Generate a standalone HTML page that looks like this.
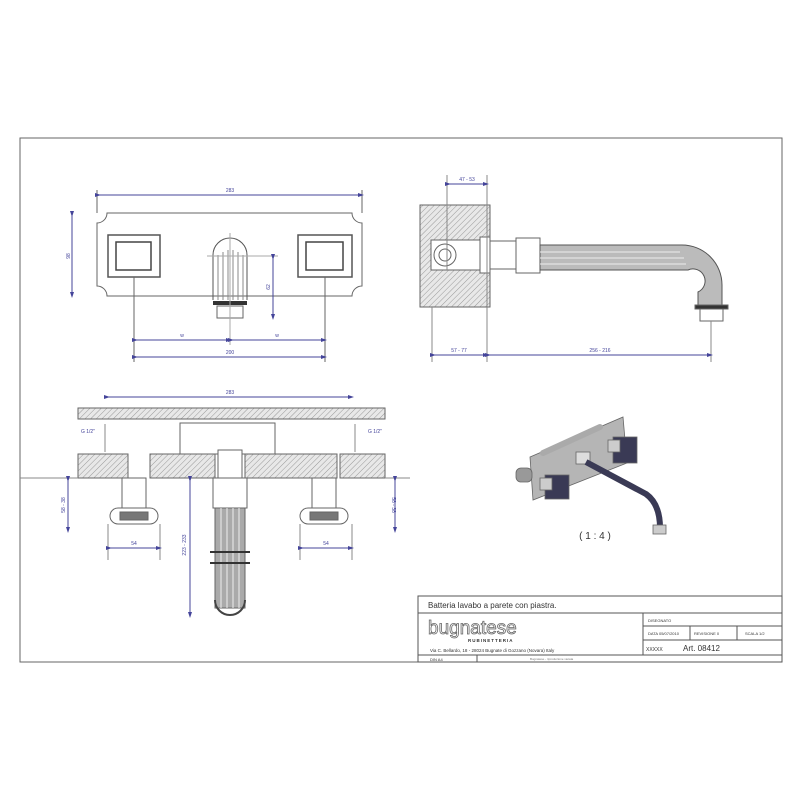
<!DOCTYPE html>
<html><head><meta charset="utf-8"><style>
html,body{margin:0;padding:0;background:#fff}
svg{display:block}
text{font-family:"Liberation Sans",sans-serif}
</style></head><body>
<svg width="800" height="800" viewBox="0 0 800 800" xmlns="http://www.w3.org/2000/svg">
<defs>
<pattern id="h" width="4" height="4" patternUnits="userSpaceOnUse" patternTransform="rotate(45)">
<rect width="4" height="4" fill="#e8e8e8"/><line x1="0" y1="0" x2="0" y2="4" stroke="#999" stroke-width="1"/></pattern>
<marker id="a" markerWidth="6" markerHeight="6" refX="3" refY="3" orient="auto"><path d="M0,1 L6,3 L0,5" fill="#44449a"/></marker>
</defs>
<!-- frame -->
<rect x="20" y="138" width="762" height="524" fill="none" stroke="#666" stroke-width="1"/>

<!-- FRONT VIEW -->
<g stroke="#666" fill="none" stroke-width="1">
<path d="M107,213 H352 A10,10 0 0 0 362,223 V286 A10,10 0 0 0 352,296 H107 A10,10 0 0 0 97,286 V223 A10,10 0 0 0 107,213 Z"/>
<rect x="108" y="235" width="52" height="42" fill="#fff" stroke="#555" stroke-width="1.5"/>
<rect x="116" y="242" width="35" height="28" stroke="#444" stroke-width="1.5"/>
<rect x="298" y="235" width="54" height="42" fill="#fff" stroke="#555" stroke-width="1.5"/>
<rect x="306" y="242" width="37" height="28" stroke="#444" stroke-width="1.5"/>
<path d="M213,300 V255 A17,17 0 0 1 247,255 V300" stroke="#555"/>
<g stroke="#888"><line x1="218" y1="255" x2="218" y2="300"/><line x1="223" y1="252" x2="223" y2="300"/><line x1="228" y1="250" x2="228" y2="300"/><line x1="233" y1="250" x2="233" y2="300"/><line x1="238" y1="252" x2="238" y2="300"/><line x1="243" y1="255" x2="243" y2="300"/></g>
<rect x="213" y="301" width="34" height="4" fill="#333" stroke="none"/>
<rect x="217" y="306" width="26" height="12"/>
<line x1="207" y1="256" x2="278" y2="256" stroke="#aaa"/>
<line x1="230" y1="233" x2="230" y2="345" stroke="#aaa"/>
<line x1="134" y1="277" x2="134" y2="362"/><line x1="325" y1="277" x2="325" y2="362"/>
<line x1="97" y1="190" x2="97" y2="213"/><line x1="362" y1="190" x2="362" y2="213"/>
</g>
<g stroke="#44449a" stroke-width="1" marker-start="url(#a)" marker-end="url(#a)">
<line x1="98" y1="195" x2="361" y2="195"/>
<line x1="72" y1="214" x2="72" y2="295"/>
<line x1="273" y1="257" x2="273" y2="317"/>
<line x1="135" y1="340" x2="229" y2="340"/><line x1="231" y1="340" x2="324" y2="340"/>
<line x1="135" y1="357" x2="324" y2="357"/>
</g>
<g fill="#44449a" font-size="5" text-anchor="middle">
<text x="230" y="192">283</text><text x="70" y="256" transform="rotate(-90 70 256)">98</text>
<text x="270" y="287" transform="rotate(-90 270 287)">62</text>
<text x="182" y="337">w</text><text x="277" y="337">w</text><text x="230" y="354">200</text>
</g>

<!-- SIDE VIEW -->
<g stroke="#666" stroke-width="1">
<rect x="420" y="205" width="70" height="102" fill="url(#h)"/>
<rect x="431" y="240" width="52" height="30" fill="#fff"/>
<circle cx="445" cy="255" r="11" fill="#fff"/><circle cx="445" cy="255" r="6" fill="#fff"/>
<rect x="480" y="237" width="10" height="36" fill="#fff"/>
<rect x="490" y="241" width="30" height="28" fill="#fff"/>
<rect x="516" y="238" width="24" height="35" fill="#fff"/>
<path d="M540,245 H682 A40,40 0 0 1 722,285 V305 H698 V292 A10,10 0 0 0 688,270 H540 Z" fill="#bbb" stroke="#555"/>
<g stroke="#eee" stroke-width="1"><line x1="540" y1="252" x2="680" y2="252"/><line x1="540" y1="258" x2="684" y2="258"/><line x1="540" y1="264" x2="686" y2="264"/></g>
<rect x="695" y="305" width="33" height="4" fill="#333"/>
<rect x="700" y="309" width="23" height="12" fill="#fff"/>
<line x1="432" y1="307" x2="432" y2="362" stroke="#888"/><line x1="487" y1="175" x2="487" y2="362" stroke="#888"/><line x1="711" y1="321" x2="711" y2="362" stroke="#888"/>
<line x1="447" y1="175" x2="447" y2="270" stroke="#888"/>
</g>
<g stroke="#44449a" marker-start="url(#a)" marker-end="url(#a)">
<line x1="448" y1="184" x2="486" y2="184"/>
<line x1="433" y1="355" x2="486" y2="355"/><line x1="488" y1="355" x2="710" y2="355"/>
</g>
<g fill="#44449a" font-size="5" text-anchor="middle">
<text x="467" y="181">47 - 53</text><text x="459" y="352">57 - 77</text><text x="600" y="352">256 - 216</text>
</g>

<!-- TOP VIEW -->
<g stroke="#666" stroke-width="1">
<rect x="78" y="408" width="307" height="11" fill="url(#h)"/>
<rect x="180" y="423" width="95" height="31" fill="#fff"/>
<path d="M105,424 V452 M355,424 V452" stroke="#888"/>
<rect x="78" y="454" width="50" height="24" fill="url(#h)"/>
<rect x="150" y="454" width="65" height="24" fill="url(#h)"/>
<rect x="245" y="454" width="92" height="24" fill="url(#h)"/>
<rect x="340" y="454" width="45" height="24" fill="url(#h)"/>
<rect x="218" y="450" width="24" height="28" fill="#fff"/>
<rect x="213" y="478" width="34" height="30" fill="#fff"/>
<rect x="215" y="508" width="30" height="100" fill="#aaa"/>
<g stroke="#eee"><line x1="221" y1="508" x2="221" y2="608"/><line x1="227" y1="508" x2="227" y2="608"/><line x1="233" y1="508" x2="233" y2="608"/><line x1="239" y1="508" x2="239" y2="608"/></g>
<path d="M215,600 A15,15 0 0 0 245,600" fill="none" stroke="#444" stroke-width="2"/>
<line x1="210" y1="552" x2="250" y2="552" stroke="#333" stroke-width="2"/><line x1="210" y1="563" x2="250" y2="563" stroke="#333" stroke-width="2"/>
<rect x="122" y="478" width="24" height="30" fill="#fff"/>
<rect x="312" y="478" width="24" height="30" fill="#fff"/>
<rect x="110" y="508" width="48" height="16" rx="8" fill="#fff"/>
<rect x="300" y="508" width="48" height="16" rx="8" fill="#fff"/>
<rect x="120" y="512" width="28" height="8" fill="#777"/><rect x="310" y="512" width="28" height="8" fill="#777"/>
<line x1="20" y1="478" x2="78" y2="478" stroke="#888"/><line x1="385" y1="478" x2="410" y2="478" stroke="#888"/>
<line x1="108" y1="524" x2="108" y2="560" stroke="#888"/><line x1="160" y1="524" x2="160" y2="560" stroke="#888"/>
<line x1="300" y1="524" x2="300" y2="560" stroke="#888"/><line x1="352" y1="524" x2="352" y2="560" stroke="#888"/>
</g>
<g stroke="#44449a" marker-start="url(#a)" marker-end="url(#a)">
<line x1="107" y1="397" x2="351" y2="397"/>
<line x1="68" y1="479" x2="68" y2="530"/><line x1="395" y1="479" x2="395" y2="530"/>
<line x1="109" y1="548" x2="159" y2="548"/><line x1="301" y1="548" x2="351" y2="548"/>
<line x1="190" y1="479" x2="190" y2="615"/>
</g>
<g fill="#44449a" font-size="5" text-anchor="middle">
<text x="230" y="394">283</text><text x="134" y="545">54</text><text x="326" y="545">54</text>
<text x="65" y="505" transform="rotate(-90 65 505)">58 - 38</text><text x="392" y="505" transform="rotate(90 392 505)">58 - 38</text>
<text x="186" y="545" transform="rotate(-90 186 545)">223 - 233</text>
<text x="88" y="433">G 1/2"</text><text x="375" y="433">G 1/2"</text>
</g>

<!-- ISO -->
<g stroke="#666" stroke-width="0.8">
<polygon points="530,457 623,417 627,463 533,500" fill="#b5b5b5"/>
<path d="M543,453 L600,427" stroke="#aaa" stroke-width="6" stroke-linecap="round"/>
<rect x="516" y="468" width="16" height="14" rx="5" fill="#999"/>
<rect x="545" y="475" width="24" height="24" fill="#3a3a55"/>
<rect x="540" y="478" width="12" height="12" fill="#ccc"/>
<rect x="613" y="437" width="24" height="26" fill="#3a3a55"/>
<rect x="608" y="440" width="12" height="12" fill="#ccc"/>
<rect x="576" y="452" width="14" height="12" fill="#ddd"/>
<path d="M586,462 L646,494 Q660,504 660,528" fill="none" stroke="#3a3a55" stroke-width="6"/>
<rect x="653" y="525" width="13" height="9" fill="#ccc"/>
</g>
<text x="595" y="539" font-size="10" fill="#333" text-anchor="middle">( 1 : 4 )</text>

<!-- TITLE BLOCK -->
<g stroke="#555" fill="none" stroke-width="1">
<rect x="418" y="596" width="364" height="66"/>
<line x1="418" y1="613" x2="782" y2="613"/>
<line x1="643" y1="613" x2="643" y2="655"/>
<line x1="643" y1="626" x2="782" y2="626"/>
<line x1="643" y1="640" x2="782" y2="640"/>
<line x1="690" y1="626" x2="690" y2="640"/><line x1="737" y1="626" x2="737" y2="640"/>
<line x1="418" y1="655" x2="782" y2="655"/>
<line x1="477" y1="655" x2="477" y2="662"/>
</g>
<g fill="#333">
<text x="428" y="608" font-size="8">Batteria lavabo a parete con piastra.</text>
<text x="428" y="634" font-size="19" fill="#fff" stroke="#666" stroke-width="0.8">bugnatese</text>
<text x="468" y="642" font-size="4.5" font-weight="bold" letter-spacing="1">RUBINETTERIA</text>
<text x="430" y="652" font-size="4.5">Via C. Bellardo, 18 - 28024 Bugnate di Gozzano (Novara) Italy</text>
<text x="648" y="622" font-size="4">DISEGNATO</text>
<text x="648" y="635" font-size="4">DATA 05/07/2010</text><text x="694" y="635" font-size="4">REVISIONE 0</text><text x="745" y="635" font-size="4">SCALA 1/2</text>
<text x="646" y="651" font-size="5">XXXXX</text><text x="683" y="651" font-size="8">Art. 08412</text>
<text x="430" y="661" font-size="4">DIN A4</text>
<text x="530" y="660" font-size="3" fill="#777">Bugnatese - riproduzione vietata</text>
</g>
</svg>
</body></html>
